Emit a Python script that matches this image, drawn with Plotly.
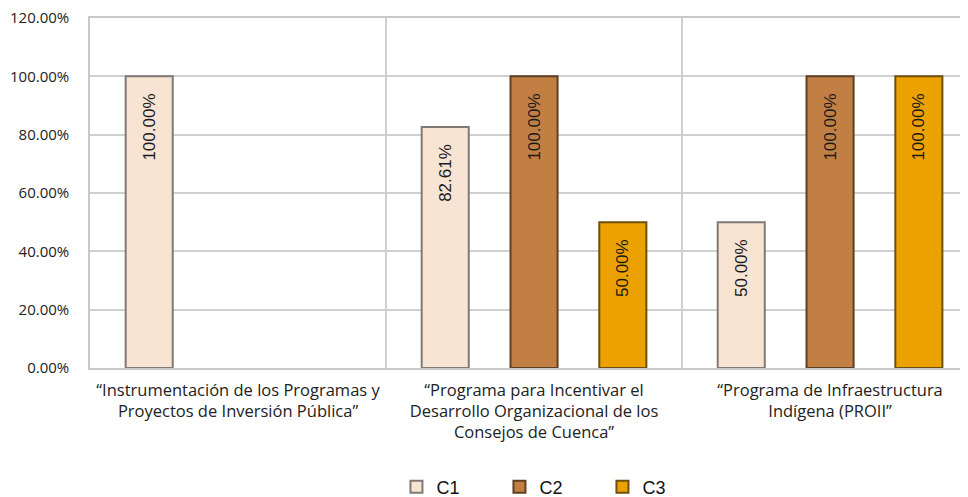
import plotly.graph_objects as go

categories = [
    "“Instrumentación de los Programas y<br>Proyectos de Inversión Pública”",
    "“Programa para Incentivar el<br>Desarrollo Organizacional de los<br>Consejos de Cuenca”",
    "“Programa de Infraestructura<br>Indígena (PROII”",
]
series_names = ["C1", "C2", "C3"]
c1 = [1.0, 0.8261, 0.50]
c2 = [None, 1.0, 1.0]
c3 = [None, 0.50, 1.0]
y_ticks = [0, 0.2, 0.4, 0.6, 0.8, 1.0, 1.2]

colors = ["#F7E4D3", "#C27F44", "#EBA200"]
lines = ["#7F7A75", "#5E4024", "#6E500C"]

fig = go.Figure()
for name, vals, col, lc in zip(series_names, [c1, c2, c3], colors, lines):
    fig.add_trace(go.Bar(
        name=name, x=categories, y=vals,
        marker=dict(color=col, line=dict(color=lc, width=2)),
        text=[None if v is None else f"{v*100:.2f}%   " for v in vals],
        textposition="inside", insidetextanchor="end", textangle=-90,
        textfont=dict(family="Liberation Sans, Arial", size=17, color="#1a1a1a"),
        cliponaxis=False,
    ))

fig.update_layout(
    width=960, height=489,
    margin=dict(l=82, r=0, t=10, b=129),
    paper_bgcolor="white", plot_bgcolor="white",
    barmode="group", bargap=0.1, bargroupgap=0.47,
    font=dict(family="Open Sans, sans-serif", size=13, color="#222"),
    legend=dict(orientation="h", x=0.525, xanchor="center", yref="container",
                y=0.0204, yanchor="middle",
                font=dict(family="Liberation Sans, Arial", size=18, color="#111"),
                itemwidth=30, entrywidth=58),
    xaxis=dict(
        range=[-0.5, 2.466], tickson="boundaries", showgrid=True,
        gridcolor="#D0D0D0", gridwidth=1.5, ticks="", showline=True,
        mirror=True,
        linecolor="#C8C8C8", linewidth=1.5, ticklabelstandoff=6,
        tickfont=dict(family="Open Sans, sans-serif", size=16.5, color="#222"),
    ),
    yaxis=dict(
        range=[0, 1.2], tickvals=y_ticks, tickformat=".2%",
        showgrid=True, gridcolor="#D0D0D0", gridwidth=1.5, zeroline=False,
        showline=True, linecolor="#C8C8C8", linewidth=1.5,
        ticks="", ticklabelstandoff=16, ticklabeloverflow="allow",
        tickfont=dict(family="Open Sans, sans-serif", size=15, color="#222"),
    ),
)
fig.write_html("out.html")
